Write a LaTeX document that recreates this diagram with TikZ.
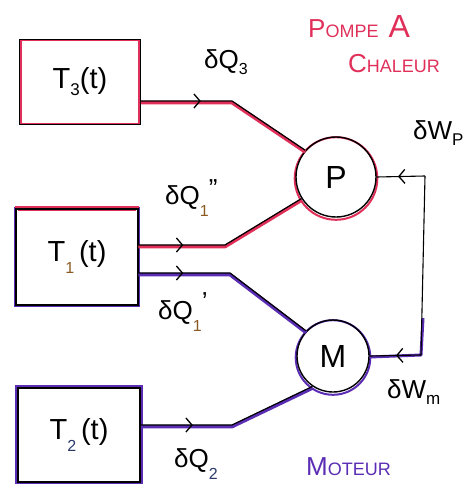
\documentclass[tikz,border=0pt]{standalone}
\usepackage{fontspec}
\setmainfont{Liberation Sans}
\usetikzlibrary{arrows.meta,decorations.markings}
\definecolor{pred}{HTML}{E0305A}
\definecolor{ppur}{HTML}{5A2DB4}
\definecolor{subor}{HTML}{8A5A20}
\definecolor{subbl}{HTML}{2A3A6A}
\newcommand\subnum[2]{\raisebox{-12pt}{\fontsize{16}{16}\selectfont\color{#1}#2}}
\begin{document}
\begin{tikzpicture}[x=1pt,y=-1pt,
  box/.style={draw=black, line width=1.6pt, inner sep=0pt, font=\fontsize{29}{31}\selectfont},
  circ/.style={circle, draw=black, line width=1.4pt, minimum size=#1, inner sep=0pt, font=\fontsize{32}{34}\selectfont},
  lab/.style={font=\fontsize{26}{28}\selectfont, inner sep=1pt},
  flowc/.style={line width=3.6pt, line join=round, transform canvas={yshift=-1.6pt}},
  flowk/.style={draw=black, line width=1.2pt, line join=round},
  arrowat/.style={postaction={decorate, decoration={markings, mark=at position #1 with {\arrow{Straight Barb[length=6pt,width=14pt,line width=1.3pt]}}}}}
]
\useasboundingbox (0,0) rectangle (463,484);

% boxes
\node[box, minimum width=120pt, minimum height=85pt] (t3) at (80,82) {T\raisebox{-7pt}{\fontsize{17}{17}\selectfont 3}(t)};
\draw[pred, line width=1.6pt] ([shift={(2pt,-2pt)}]t3.north west) rectangle ([shift={(-2pt,2pt)}]t3.south east);

\node[box, minimum width=121pt, minimum height=95pt] (t1) at (77,257) {T\subnum{subor}{1}\,(t)};
\draw[ppur, line width=2.2pt] ([shift={(-1pt,1pt)}]t1.north west) rectangle ([shift={(1pt,-1pt)}]t1.south east);
\draw[pred, line width=2.4pt] ([shift={(-1pt,1.2pt)}]t1.north west) -- ([shift={(1pt,1.2pt)}]t1.north east);
\draw[pred, line width=1.2pt] ([shift={(2pt,-1.8pt)}]t1.north west) -- ([shift={(-2pt,-1.8pt)}]t1.north east);
\draw[black, line width=1.5pt] (t1.north west) rectangle (t1.south east);

\node[box, minimum width=122pt, minimum height=94pt] (t2) at (79,435) {T\subnum{subbl}{2}\,(t)};
\draw[ppur, line width=2pt] ([shift={(-1pt,1pt)}]t2.north west) rectangle ([shift={(1pt,-1pt)}]t2.south east);
\draw[black, line width=1.3pt] (t2.north west) rectangle (t2.south east);

% circles
\draw[pred, line width=2pt] (336,178.5) circle (41.3pt);
\node[circ=80pt] (p) at (336,177) {P};
\draw[ppur, line width=2pt] (333,357.5) circle (37.3pt);
\node[circ=72pt] (m) at (333,356) {M};

% bend points
\coordinate (b3) at (232,101);
\coordinate (b1a) at (225,245);
\coordinate (b1b) at (230,273);
\coordinate (b2) at (232,425);
\coordinate (wt) at (425,176);
\coordinate (wb) at (421,355);
\coordinate (wm) at (423,318);

% heat flows
\draw[flowc, pred] ([yshift=-19pt]t3.east) -- (b3) -- (p.139);
\draw[flowk, arrowat=60pt] ([yshift=-19pt]t3.east) -- (b3) -- (p.139);

\draw[flowc, pred] ([yshift=12pt]t1.east) -- (b1a) -- (p.212);
\draw[flowk, arrowat=45pt] ([yshift=12pt]t1.east) -- (b1a) -- (p.212);

\draw[flowc, ppur] ([yshift=-16pt]t1.east) -- (b1b) -- (m.137);
\draw[flowk, arrowat=45pt] ([yshift=-16pt]t1.east) -- (b1b) -- (m.137);

\draw[flowc, ppur] ([yshift=10pt]t2.east) -- (b2) -- (m.236);
\draw[flowk, arrowat=52pt] ([yshift=10pt]t2.east) -- (b2) -- (m.236);

% work
\draw[ppur, line width=3pt, line join=round] (wm) -- (wb) -- ([yshift=-1pt]m.east);
\draw[black, line width=1.1pt, arrowat=27pt] (wt) -- (p.east);
\draw[black, line width=1.1pt] (wt) -- (wb);
\draw[black, line width=1.1pt, arrowat=25pt] (wb) -- (m.east);

% labels
\node[lab] (lq3) at (226,62) {δQ\raisebox{-6pt}{\fontsize{16}{16}\selectfont 3}};
\node[lab, anchor=west] (lq1a) at (164,198) {δQ\subnum{subor}{1}\raisebox{7pt}{''}};
\node[lab, anchor=west] (lq1b) at (157,312) {δQ\subnum{subor}{1}\raisebox{9pt}{'}};
\node[lab, anchor=west] (lq2) at (173,464) {δQ\subnum{subbl}{2}};
\node[lab, anchor=west] (lwp) at (412,133) {δW\raisebox{-6pt}{\fontsize{17}{17}\selectfont P}};
\node[lab, anchor=west] (lwm) at (386,392) {δW\raisebox{-6pt}{\fontsize{17}{17}\selectfont m}};

\node[pred, anchor=west, inner sep=0pt] (tpompe) at (308,27) {\fontsize{26}{26}\selectfont P\fontsize{18}{18}\selectfont OMPE\ \ \fontsize{32}{32}\selectfont A};
\node[pred, anchor=west, inner sep=0pt] (tchal) at (348,64) {\fontsize{26}{26}\selectfont C\fontsize{18}{18}\selectfont HALEUR};
\node[ppur, anchor=west, inner sep=0pt] (tmot) at (306,467) {\fontsize{26}{26}\selectfont M\fontsize{18}{18}\selectfont OTEUR};
\end{tikzpicture}
\end{document}
